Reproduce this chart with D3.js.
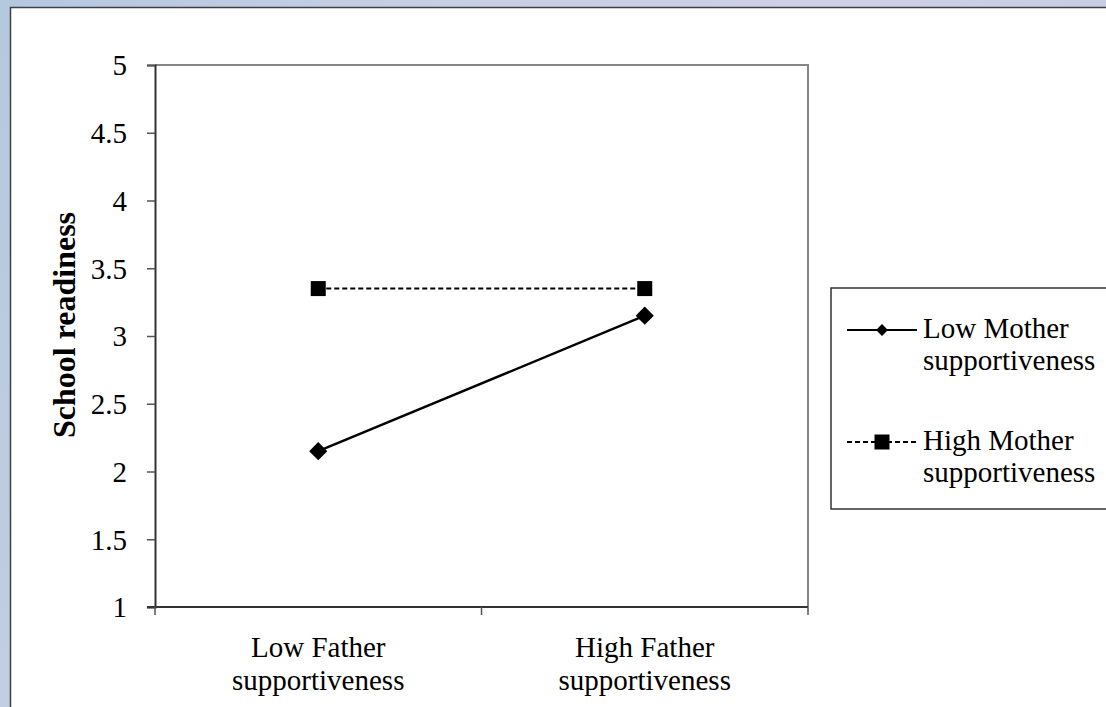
<!DOCTYPE html>
<html>
<head>
<meta charset="utf-8">
<script src="https://cdn.jsdelivr.net/npm/d3@7"></script>
<style>
  html, body { margin: 0; padding: 0; overflow: hidden; }
  body { width: 1106px; height: 707px; }
  svg { display: block; font-family: "Liberation Serif", "Times New Roman", serif; }
</style>
</head>
<body>
<svg id="chart" width="1106" height="707"></svg>
<script>
// Category labels on the x axis (each split over two lines)
const categories = ["Low Father supportiveness", "High Father supportiveness"];
const categoryLines = [["Low Father", "supportiveness"], ["High Father", "supportiveness"]];

// Series
const seriesNames = ["Low Mother supportiveness", "High Mother supportiveness"];
const seriesLegendLines = [["Low Mother", "supportiveness"], ["High Mother", "supportiveness"]];
const lowMotherValues = [2.15, 3.15];
const highMotherValues = [3.35, 3.35];

// Y axis ticks
const yTicks = [1, 1.5, 2, 2.5, 3, 3.5, 4, 4.5, 5];
const yTitle = "School readiness";

const FS = 29;
const svg = d3.select("#chart");
const W = 1106, H = 707;

// Window backdrop
const defs = svg.append("defs");
const bg = defs.append("linearGradient").attr("id", "bg").attr("x1", 0).attr("y1", 0).attr("x2", 1).attr("y2", 0.3);
bg.append("stop").attr("offset", "0%").attr("stop-color", "#b4c8de");
bg.append("stop").attr("offset", "35%").attr("stop-color", "#c6cfe2");
bg.append("stop").attr("offset", "70%").attr("stop-color", "#cfd0e6");
bg.append("stop").attr("offset", "100%").attr("stop-color", "#c3cde0");
svg.append("rect").attr("width", W).attr("height", H).attr("fill", "url(#bg)");

// White chart sheet
svg.append("rect").attr("x", 10.5).attr("y", 7.5).attr("width", W + 20).attr("height", H + 20)
  .attr("fill", "#fff").attr("stroke", "#404040").attr("stroke-width", 1.5);

const plot = { left: 155, top: 65, right: 808, bottom: 607 };

const x = d3.scaleBand().domain(categories).range([plot.left, plot.right]);
const y = d3.scaleLinear().domain([1, 5]).range([plot.bottom, plot.top]);

// Plot frame: top and right in grey
svg.append("path")
  .attr("d", `M${plot.left},${plot.top}H${plot.right}V${plot.bottom}`)
  .attr("fill", "none").attr("stroke", "#868686").attr("stroke-width", 2);

// Y axis
const yAxis = svg.append("g").attr("transform", `translate(${plot.left},0)`)
  .call(d3.axisLeft(y).tickValues(yTicks).tickSize(8).tickPadding(20).tickFormat(d3.format("")));
yAxis.attr("font-size", FS).attr("font-family", null);
yAxis.select(".domain").attr("stroke", "#333").attr("stroke-width", 2);
yAxis.selectAll(".tick line").attr("stroke", "#555").attr("stroke-width", 1.5);
yAxis.selectAll(".tick text").attr("fill", "#000").attr("dy", "0.34em");

// X axis with ticks at band boundaries
const xAxis = svg.append("g").attr("transform", `translate(0,${plot.bottom})`);
xAxis.append("line").attr("x1", plot.left - 8).attr("x2", plot.right)
  .attr("stroke", "#333").attr("stroke-width", 2);
const bounds = [plot.left, ...categories.map(c => x(c) + x.bandwidth())];
xAxis.selectAll("line.tk").data(bounds).enter().append("line").attr("class", "tk")
  .attr("x1", d => d).attr("x2", d => d).attr("y1", 0).attr("y2", 8)
  .attr("stroke", "#555").attr("stroke-width", 1.5);

const xLabels = svg.append("g");
categories.forEach((c, i) => {
  const t = xLabels.append("text").attr("x", x(c) + x.bandwidth() / 2).attr("y", 657)
    .attr("text-anchor", "middle").attr("font-size", FS).attr("fill", "#000");
  categoryLines[i].forEach((ln, j) => {
    t.append("tspan").attr("x", x(c) + x.bandwidth() / 2).attr("dy", j === 0 ? 0 : 33).text(ln);
  });
});

// Y title
svg.append("text").attr("transform", `translate(75,325) rotate(-90)`)
  .attr("text-anchor", "middle").attr("font-size", 32).attr("font-weight", "bold")
  .attr("fill", "#000").text(yTitle);

const cx = c => x(c) + x.bandwidth() / 2;
const line = d3.line().x(d => cx(d.cat)).y(d => y(d.v));

const lowData = categories.map((c, i) => ({ cat: c, v: lowMotherValues[i] }));
const highData = categories.map((c, i) => ({ cat: c, v: highMotherValues[i] }));

// High mother supportiveness: dashed line with squares
svg.append("path").datum(highData).attr("d", line).attr("fill", "none")
  .attr("stroke", "#000").attr("stroke-width", 2).attr("stroke-dasharray", "5,3");
svg.selectAll("rect.sq").data(highData).enter().append("rect").attr("class", "sq")
  .attr("x", d => cx(d.cat) - 7.5).attr("y", d => y(d.v) - 7.5)
  .attr("width", 15).attr("height", 15).attr("fill", "#000");

// Low mother supportiveness: solid line with diamonds
svg.append("path").datum(lowData).attr("d", line).attr("fill", "none")
  .attr("stroke", "#000").attr("stroke-width", 2.4);
const diamond = d3.symbol().type(d3.symbolDiamond2).size(210);
svg.selectAll("path.dm").data(lowData).enter().append("path").attr("class", "dm")
  .attr("d", diamond).attr("transform", d => `translate(${cx(d.cat)},${y(d.v)})`)
  .attr("fill", "#000");

// Legend
const lg = svg.append("g");
lg.append("rect").attr("x", 831).attr("y", 288).attr("width", 300).attr("height", 221)
  .attr("fill", "#fff").attr("stroke", "#333").attr("stroke-width", 1.5);

const legendDiamond = d3.symbol().type(d3.symbolDiamond2).size(90);
const legendRows = [
  { y: 330, dash: null, mark: "diamond" },
  { y: 442, dash: "5,3", mark: "square" }
];
legendRows.forEach((r, i) => {
  lg.append("line").attr("x1", 847).attr("x2", 917).attr("y1", r.y).attr("y2", r.y)
    .attr("stroke", "#000").attr("stroke-width", 2.2).attr("stroke-dasharray", r.dash);
  if (r.mark === "diamond") {
    lg.append("path").attr("d", legendDiamond).attr("transform", `translate(882,${r.y})`).attr("fill", "#000");
  } else {
    lg.append("rect").attr("x", 874.5).attr("y", r.y - 7.5).attr("width", 15).attr("height", 15).attr("fill", "#000");
  }
  const t = lg.append("text").attr("x", 923).attr("y", r.y + 8).attr("font-size", FS).attr("fill", "#000");
  seriesLegendLines[i].forEach((ln, j) => {
    t.append("tspan").attr("x", 923).attr("dy", j === 0 ? 0 : 32).text(ln);
  });
});
</script>
</body>
</html>
